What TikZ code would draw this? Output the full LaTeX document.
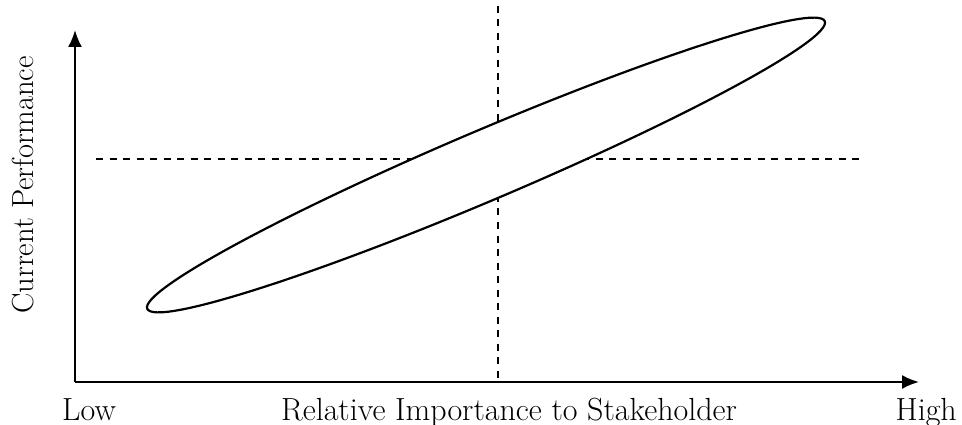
\documentclass[tikz,border=0pt]{standalone}
\usetikzlibrary{arrows.meta}
\begin{document}
\begin{tikzpicture}[x=1pt,y=-1pt,
  axis/.style={line width=2pt,-{Latex[length=17pt,width=14pt]}},
  guide/.style={line width=1.8pt,dash pattern=on 7pt off 6.5pt},
  lbl/.style={font=\fontsize{32}{36}\selectfont,inner sep=0pt}]
\useasboundingbox (0,0) rectangle (962,425);
\coordinate (O) at (75,382);
\coordinate (ytop) at (75,30);
\coordinate (xend) at (919,382);
\coordinate (hl) at (96,159);
\coordinate (hr) at (863,159);
\coordinate (vt) at (498,6);
\coordinate (vb) at (498,381);
\draw[guide] (hl) -- (hr);
\draw[guide] (vt) -- (vb);
\draw[line width=2.2pt,fill=white,rotate around={23:(486,165)}] (486,165) ellipse [x radius=368pt,y radius=35pt];
\draw[axis] (O) -- (ytop);
\draw[axis] (O) -- (xend);
\node[lbl,anchor=base,rotate=90,font=\fontsize{30.5}{34}\selectfont] (ylab) at (33,185) {Current Performance};
\node[lbl,anchor=base] (xlab) at (509,420) {Relative Importance to Stakeholder};
\node[lbl,anchor=base west] (low) at (62,420) {Low};
\node[lbl,anchor=base east] (high) at (957,420) {High};
\end{tikzpicture}
\end{document}
